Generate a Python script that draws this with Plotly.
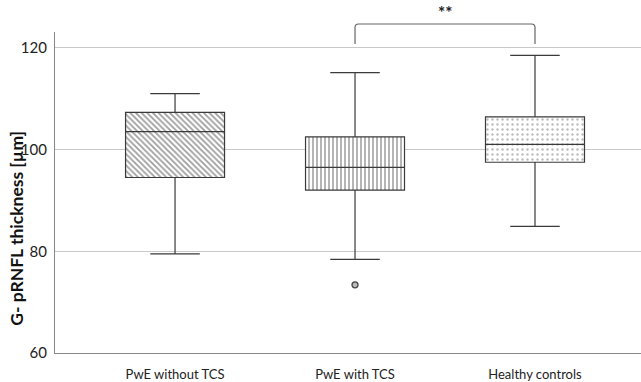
import plotly.graph_objects as go

categories = ["PwE without TCS", "PwE with TCS", "Healthy controls"]
positions = [0, 1, 2]
lower_whisker = [79.5, 78.4, 84.9]
q1 = [94.5, 92.0, 97.5]
median = [103.5, 96.5, 101.0]
q3 = [107.3, 102.5, 106.4]
upper_whisker = [111.0, 115.1, 118.5]
outlier_x = [1]
outlier_y = [73.4]
sig_pair = [1, 2]
sig_label = "**"

patterns = ["\\", "|", "."]
XR = [-0.667, 2.589]
YR = [60, 123.1]
FONT = "Lato, 'Open Sans', sans-serif"
BOXW = 0.55

fig = go.Figure()
fig.add_trace(go.Bar(
    x=positions, y=[b - a for a, b in zip(q1, q3)], base=q1, width=BOXW,
    marker=dict(color="white", line=dict(width=0),
                pattern=dict(shape=patterns, fgcolor=["#3c3c3c", "#444", "#777"],
                             bgcolor="white", size=[4, 4, 5],
                             solidity=[0.45, 0.4, 0.18])),
    showlegend=False, hoverinfo="skip"))
fig.add_trace(go.Box(
    x=positions, q1=q1, median=median, q3=q3,
    lowerfence=lower_whisker, upperfence=upper_whisker,
    width=BOXW, whiskerwidth=0.5, fillcolor="rgba(0,0,0,0)",
    line=dict(color="#3a3a3a", width=1.2), boxpoints=False, showlegend=False))
fig.add_trace(go.Scatter(
    x=outlier_x, y=outlier_y, mode="markers",
    marker=dict(symbol="circle", size=6, color="#bbbbbb",
                line=dict(color="#444", width=1.3)),
    showlegend=False))

def px(v):
    return (v - XR[0]) / (XR[1] - XR[0])

xa, xb = px(sig_pair[0]), px(sig_pair[1])
yt, yb = 1.025, 0.963
r = 0.006
path = (f"M {xa},{yb} L {xa},{yt-0.01} Q {xa},{yt} {xa+r},{yt} "
        f"L {xb-r},{yt} Q {xb},{yt} {xb},{yt-0.01} L {xb},{yb}")
fig.add_shape(type="path", path=path, xref="paper", yref="paper",
              line=dict(color="#666", width=1.2))
fig.add_annotation(x=(xa + xb) / 2, y=1.06, xref="paper", yref="paper",
                   text=f"<b>{sig_label}</b>", showarrow=False,
                   xanchor="center", yanchor="middle",
                   font=dict(size=17, color="#222", family=FONT))
fig.add_annotation(x=-0.065, y=0.39, xref="paper", yref="paper",
                   text="<b>G- pRNFL thickness [µm]</b>", textangle=-90,
                   xanchor="center", yanchor="middle",
                   showarrow=False, font=dict(size=17.5, color="#111", family=FONT))

fig.update_layout(
    width=641, height=382, margin=dict(l=55, r=0, t=32, b=26),
    plot_bgcolor="white", paper_bgcolor="white",
    font=dict(family=FONT, size=13, color="#222"),
    xaxis=dict(range=XR, tickvals=positions, ticktext=categories,
               showgrid=False, zeroline=False, showline=True,
               linecolor="#888", linewidth=1.3, ticks="",
               ticklabelstandoff=9, tickfont=dict(size=13)),
    yaxis=dict(range=YR, tickvals=[60, 80, 100, 120], showgrid=True,
               gridcolor="#c8c8c8", gridwidth=1.3, zeroline=False,
               showline=True, linecolor="#888", linewidth=1.3, ticks="",
               ticklabelstandoff=4, tickfont=dict(size=15)),
    bargap=0, boxmode="overlay", barmode="overlay",
)
fig.write_html("out.html", config={"displayModeBar": False},
               post_script="document.body.style.margin='0';")
